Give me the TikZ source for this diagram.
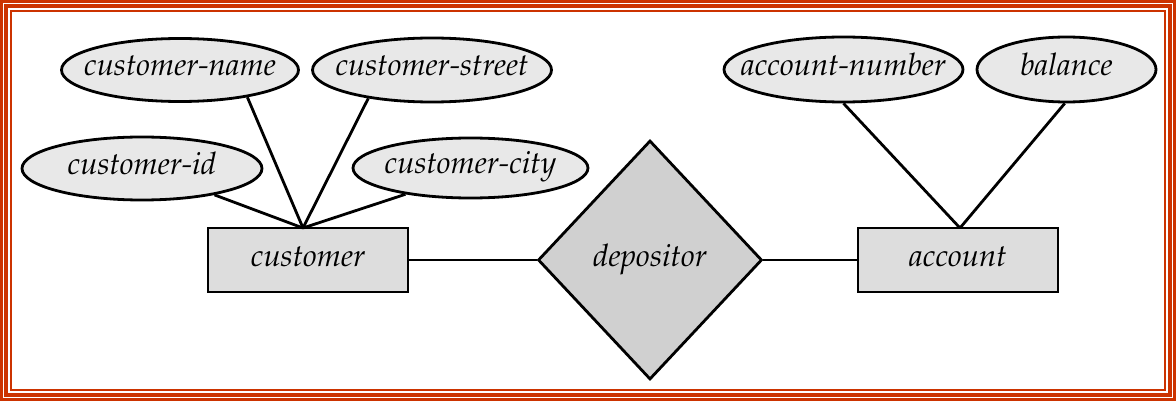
\documentclass[tikz,border=0pt]{standalone}
\usepackage[T1]{fontenc}
\usepackage{mathpazo}
\usetikzlibrary{shapes.geometric}
\definecolor{framered}{RGB}{204,51,0}
\definecolor{attrfill}{RGB}{232,232,232}
\definecolor{entfill}{RGB}{221,221,221}
\definecolor{relfill}{RGB}{208,208,208}
\begin{document}
\begin{tikzpicture}[x=1pt,y=-1pt,
  lbl/.style={font=\fontsize{31}{36}\selectfont\itshape, text height=19pt, text depth=7pt},
  attr/.style={lbl, ellipse, draw, line width=2.8pt, fill=attrfill, inner sep=0pt},
  entity/.style={lbl, rectangle, draw, line width=2.8pt, fill=entfill, inner sep=0pt,
    minimum width=200pt, minimum height=64pt},
  rel/.style={lbl, diamond, draw, line width=2.8pt, fill=relfill, inner sep=0pt,
    minimum width=224pt, minimum height=239pt},
  conn/.style={line width=2.8pt},
  framestripe/.style={draw=framered}]
\useasboundingbox (0,0) rectangle (1176,401);
\fill[white] (0,0) rectangle (1176,401);
% frame
\draw[framestripe, line width=2.2pt] (1.5,1.5) rectangle (1174.5,399.5);
\draw[framestripe, line width=4pt] (6,6) rectangle (1170,395);
\draw[framestripe, line width=2.5pt] (11.2,11.2) rectangle (1164.8,389.8);
% entities and relationship
\node[entity] (cust) at (308,260) {\makebox[0pt]{customer}};
\node[entity] (acct) at (958,260) {\makebox[0pt]{account}};
\node[rel] (dep) at (650,260) {\makebox[0pt]{depositor}};
% attributes
\node[attr, minimum width=237pt, minimum height=63pt] (cname) at (180,70) {\makebox[0pt]{customer-name}};
\node[attr, minimum width=239pt, minimum height=64pt] (cstreet) at (432,70) {\makebox[0pt]{customer-street}};
\node[attr, minimum width=240pt, minimum height=63pt] (cid) at (142,168.5) {\makebox[0pt]{customer-id}};
\node[attr, minimum width=235pt, minimum height=60pt] (ccity) at (470.5,168) {\makebox[0pt]{customer-city}};
\node[attr, minimum width=239pt, minimum height=65pt] (anum) at (843.5,69.5) {\makebox[0pt]{account-number}};
\node[attr, minimum width=179pt, minimum height=65pt] (bal) at (1066.5,69.5) {\makebox[0pt]{balance}};
% junction points on the entity tops
\coordinate (cj) at (303,228);
\coordinate (aj) at (960,228);
% connectors
\draw[conn] (cname.-22) -- (cj);
\draw[conn] (cstreet.-156) -- (cj);
\draw[conn] (cid.-20) -- (cj);
\draw[conn] (ccity.-158) -- (cj);
\draw[conn] (anum.south) -- (aj);
\draw[conn] (bal.-93) -- (aj);
\draw[conn] (cust.east) -- (dep.west);
\draw[conn] (dep.east) -- (acct.west);
\end{tikzpicture}
\end{document}
